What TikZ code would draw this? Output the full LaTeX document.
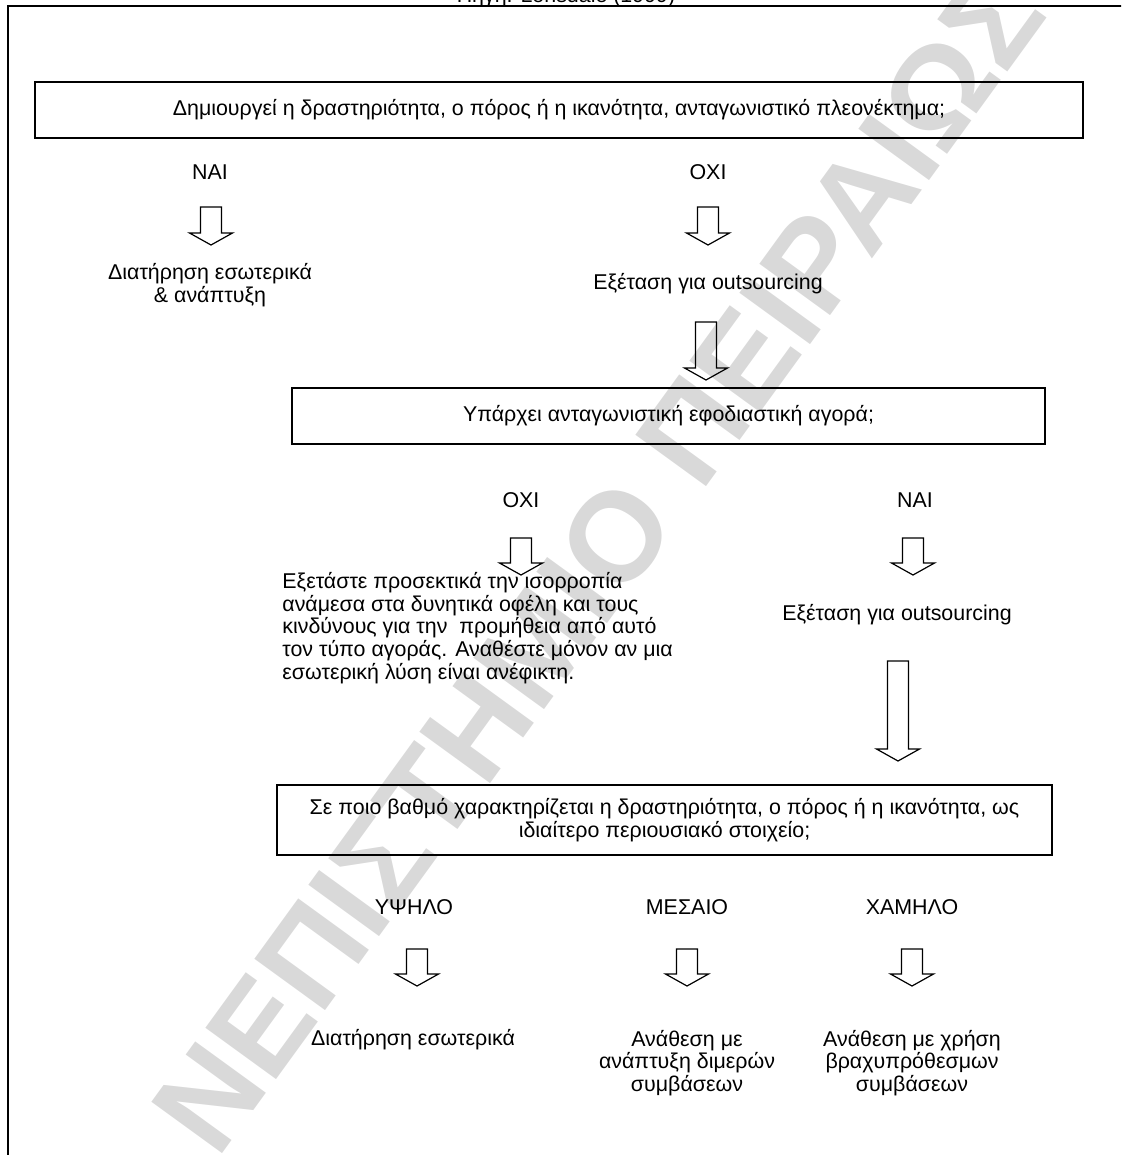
\documentclass[tikz,border=0pt]{standalone}
\usepackage{fontspec}
\setmainfont{Liberation Sans}
\begin{document}
\begin{tikzpicture}[
    x=0.5pt, y=-0.5pt,
    every node/.style={font=\fontsize{10.7}{11.4}\selectfont, inner sep=0pt},
    question/.style={rectangle, draw=black, line width=0.7pt, align=center},
    outcome/.style={align=center},
    blockline/.style={draw=black, line width=0.6pt},
    frame/.style={line width=1pt},
    watermark/.style={text=black!15, font=\fontsize{63.5}{63.5}\selectfont\bfseries, rotate=54},
    pics/downarrow/.style={code={
        \draw[blockline] (-10.5,0) -- (10.5,0) -- (10.5,#1-12) -- (21.5,#1-12)
            -- (0,#1) -- (-21.5,#1-12) -- (-10.5,#1-12) -- cycle;
    }}
]
\clip (0,0) rectangle (1121,1155);

% watermark
\node[watermark] (stamp) at (598,562) {ΝΕΠΙΣΤΗΜΙΟ ΠΕΙΡΑΙΩΣ};

% frame and source
\draw[frame] (8,1200) -- (8,6.5) -- (1200,6.5);
\node[anchor=base] (source) at (566,3) {Πηγή: Lonsdale (1999)};

% first question
\node[question, minimum width=524pt, minimum height=28pt] (advantage) at (559,110)
    {Δημιουργεί η δραστηριότητα, ο πόρος ή η ικανότητα, ανταγωνιστικό πλεονέκτημα;};
\node (yes1) at (210,172) {ΝΑΙ};
\node (no1) at (708,172) {ΟΧΙ};
\pic at (211,207) {downarrow=38};
\pic at (708,207) {downarrow=38};
\node[outcome] (keep1) at (210,285) {Διατήρηση εσωτερικά\\\& ανάπτυξη};
\node (consider1) at (708,284) {Εξέταση για outsourcing};
\pic at (706,322) {downarrow=58};

% second question
\node[question, minimum width=376.5pt, minimum height=28pt] (market) at (668.5,416)
    {Υπάρχει ανταγωνιστική εφοδιαστική αγορά;};
\node (no2) at (521,500) {ΟΧΙ};
\node (yes2) at (915,500) {ΝΑΙ};
\pic at (521,538) {downarrow=37};
\pic at (913,538) {downarrow=37};
\node[align=left, anchor=west] (balance) at (282,628)
    {Εξετάστε προσεκτικά την ισορροπία\\
     ανάμεσα στα δυνητικά οφέλη και τους\\
     κινδύνους για την~ προμήθεια από αυτό\\
     τον τύπο αγοράς. Αναθέστε μόνον αν μια\\
     εσωτερική λύση είναι ανέφικτη.};
\node (consider2) at (897,615) {Εξέταση για outsourcing};
\pic at (898,661) {downarrow=100};

% third question
\node[question, minimum width=387.5pt, minimum height=35pt] (asset) at (664.5,820)
    {Σε ποιο βαθμό χαρακτηρίζεται η δραστηριότητα, ο πόρος ή η ικανότητα, ως\\
     ιδιαίτερο περιουσιακό στοιχείο;};
\node (high) at (414,907) {ΥΨΗΛΟ};
\node (medium) at (687,907) {ΜΕΣΑΙΟ};
\node (low) at (912,907) {ΧΑΜΗΛΟ};
\pic at (417,949) {downarrow=37};
\pic at (687,949) {downarrow=37};
\pic at (912,949) {downarrow=37};
\node (keep2) at (413,1040) {Διατήρηση εσωτερικά};
\node[outcome] (bilateral) at (687,1063) {Ανάθεση με\\ανάπτυξη διμερών\\συμβάσεων};
\node[outcome] (shortterm) at (912,1063) {Ανάθεση με χρήση\\βραχυπρόθεσμων\\συμβάσεων};

\end{tikzpicture}
\end{document}
